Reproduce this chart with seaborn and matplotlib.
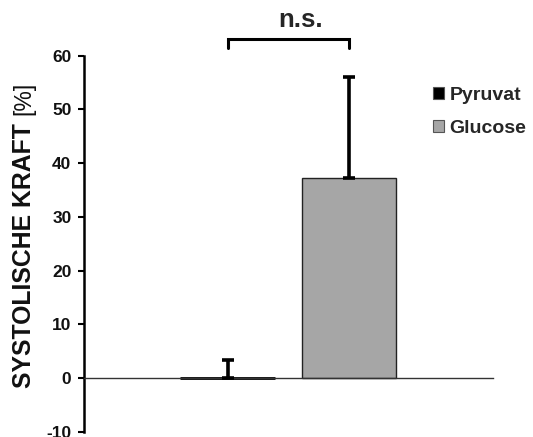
import matplotlib
matplotlib.use("Agg")
import matplotlib.pyplot as plt
from matplotlib.patches import Patch
import seaborn as sns
import pandas as pd

# data
gruppen = ["Pyruvat", "Glucose"]
werte = [0.0, 37.2]
fehler_oben = [3.3, 18.8]
farben = ["#000000", "#a6a6a6"]
y_ticks = [-10, 0, 10, 20, 30, 40, 50, 60]
y_label = "SYSTOLISCHE KRAFT"
y_einheit = "[%]"
signif = "n.s."

sns.set_theme(style="white")
plt.rcParams["font.family"] = ["Liberation Sans", "DejaVu Sans"]

df = pd.DataFrame({"Gruppe": gruppen, "Wert": werte})

fig = plt.figure(figsize=(5.33, 4.37), dpi=100)
ax = fig.add_axes([84 / 533, 5 / 437, 409 / 533, 376.5 / 437])

sns.barplot(data=df, x="Gruppe", y="Wert", hue="Gruppe", palette=farben,
            order=gruppen, hue_order=gruppen, width=0.78, legend=False,
            edgecolor="#222222", linewidth=1.0, ax=ax)
# Pyruvat bar near zero: thick black outline
ax.patches[0].set_linewidth(2.0)
ax.patches[0].set_edgecolor("black")

xs = list(range(len(gruppen)))
ax.errorbar(xs, werte, yerr=[[0] * len(werte), fehler_oben], fmt="none",
            ecolor="black", elinewidth=2.6, capsize=4.5, capthick=2.6, zorder=3)

ax.set_xlim(-1.181, 2.185)
ax.set_ylim(-10, 60)
ax.set_yticks(y_ticks)
ax.set_yticklabels([str(t) for t in y_ticks], fontsize=12.5, fontweight="bold", color="#111111")
ax.set_xticks([])
ax.set_xlabel("")
ax.set_ylabel("")

for s in ["top", "right"]:
    ax.spines[s].set_visible(False)
ax.spines["left"].set_color("black")
ax.spines["left"].set_linewidth(1.8)
ax.spines["bottom"].set_position(("data", 0))
ax.spines["bottom"].set_color("#333333")
ax.spines["bottom"].set_linewidth(1.0)
ax.tick_params(axis="y", direction="out", length=4, width=1.5, color="black", pad=5, left=True)

# significance bracket
ax.plot([0, 0, 1, 1], [61.4, 63.1, 63.1, 61.4], color="black", lw=2.2,
        clip_on=False, solid_joinstyle="miter")
ax.text(0.605, 65.3, signif, ha="center", va="baseline", fontsize=18.5,
        fontweight="bold", clip_on=False)

# y label
fig.text(24 / 533, 1 - 255.5 / 437, y_label, rotation=90, ha="center", va="center",
         fontsize=17.8, fontweight="bold", color="#111111")
fig.text(24 / 533, 1 - 98 / 437, y_einheit, rotation=90, ha="center", va="center",
         fontsize=16.5, color="#111111")

handles = [Patch(facecolor=c, edgecolor="#555555", linewidth=0.8) for c in farben]
leg = ax.legend(handles, gruppen, loc="upper left", bbox_to_anchor=(433 / 533, 1 - 87 / 437),
                bbox_transform=fig.transFigure, frameon=False, fontsize=14,
                handlelength=0.55, handleheight=0.55, handletextpad=0.3,
                labelspacing=0.8, borderpad=0, borderaxespad=0)
for t in leg.get_texts():
    t.set_fontweight("bold")

fig.savefig("out.png", dpi=100)
